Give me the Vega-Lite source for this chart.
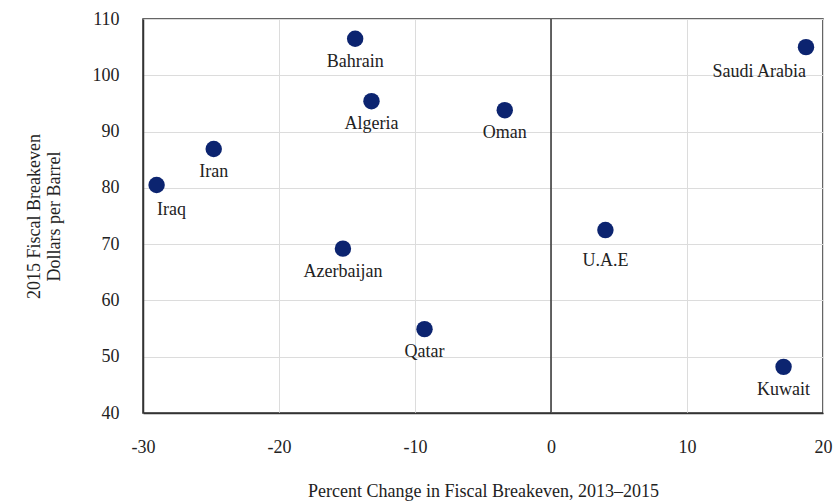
{
  "$schema": "https://vega.github.io/schema/vega-lite/v6.json",
  "width": 680,
  "height": 394,
  "autosize": {"type": "none"},
  "padding": {"left": 143, "top": 19, "right": 10, "bottom": 90},
  "background": "white",
  "config": {
    "font": "Liberation Serif",
    "view": {"stroke": "#333", "strokeWidth": 1.5},
    "axis": {"labelFont": "Liberation Serif", "titleFont": "Liberation Serif", "labelColor": "#222", "titleColor": "#222", "titleFontWeight": "normal", "labelFontSize": 18, "titleFontSize": 18, "gridColor": "#dcdcdc", "gridWidth": 1, "domainColor": "#333", "domainWidth": 1.5, "ticks": false, "labelFlush": false}
  },
  "data": {
    "values": [
      {"country": "Bahrain", "change": -14.4, "breakeven": 106.5, "pos": "below"},
      {"country": "Algeria", "change": -13.2, "breakeven": 95.4, "pos": "below"},
      {"country": "Oman", "change": -3.4, "breakeven": 93.8, "pos": "below"},
      {"country": "Iran", "change": -24.8, "breakeven": 86.9, "pos": "below"},
      {"country": "Iraq", "change": -29.0, "breakeven": 80.5, "pos": "right"},
      {"country": "Azerbaijan", "change": -15.3, "breakeven": 69.2, "pos": "below"},
      {"country": "Qatar", "change": -9.3, "breakeven": 54.9, "pos": "below"},
      {"country": "U.A.E", "change": 4.0, "breakeven": 72.5, "pos": "lower"},
      {"country": "Kuwait", "change": 17.1, "breakeven": 48.2, "pos": "below"},
      {"country": "Saudi Arabia", "change": 18.75, "breakeven": 105.0, "pos": "left"}
    ]
  },
  "encoding": {
    "x": {"field": "change", "type": "quantitative", "scale": {"domain": [-30, 20], "nice": false, "zero": false},
      "axis": {"values": [-30, -20, -10, 0, 10, 20], "labelExpr": "replace(datum.label, '\u2212', '-')", "title": "Percent Change in Fiscal Breakeven, 2013–2015", "labelPadding": 25, "titlePadding": 26}},
    "y": {"field": "breakeven", "type": "quantitative", "scale": {"domain": [40, 110], "nice": false, "zero": false},
      "axis": {"values": [40, 50, 60, 70, 80, 90, 100, 110], "title": ["2015 Fiscal Breakeven", "Dollars per Barrel"], "labelPadding": 24, "titlePadding": 29}}
  },
  "layer": [
    {"data": {"values": [{"z": 0}]}, "mark": {"type": "rule", "color": "#333", "strokeWidth": 1.5}, "encoding": {"x": {"field": "z", "type": "quantitative"}, "y": null}},
    {"mark": {"type": "circle", "color": "#0c2470", "opacity": 1, "size": 270}},
    {"transform": [{"filter": "datum.pos === 'below'"}], "mark": {"type": "text", "dy": 23, "fontSize": 18, "color": "#222", "font": "Liberation Serif"}, "encoding": {"text": {"field": "country"}}},
    {"transform": [{"filter": "datum.pos === 'lower'"}], "mark": {"type": "text", "dy": 31, "fontSize": 18, "color": "#222", "font": "Liberation Serif"}, "encoding": {"text": {"field": "country"}}},
    {"transform": [{"filter": "datum.pos === 'right'"}], "mark": {"type": "text", "dy": 25, "dx": 15, "fontSize": 18, "color": "#222", "font": "Liberation Serif"}, "encoding": {"text": {"field": "country"}}},
    {"transform": [{"filter": "datum.pos === 'left'"}], "mark": {"type": "text", "dy": 25, "dx": 0, "align": "right", "fontSize": 18, "color": "#222", "font": "Liberation Serif"}, "encoding": {"text": {"field": "country"}}}
  ]
}
